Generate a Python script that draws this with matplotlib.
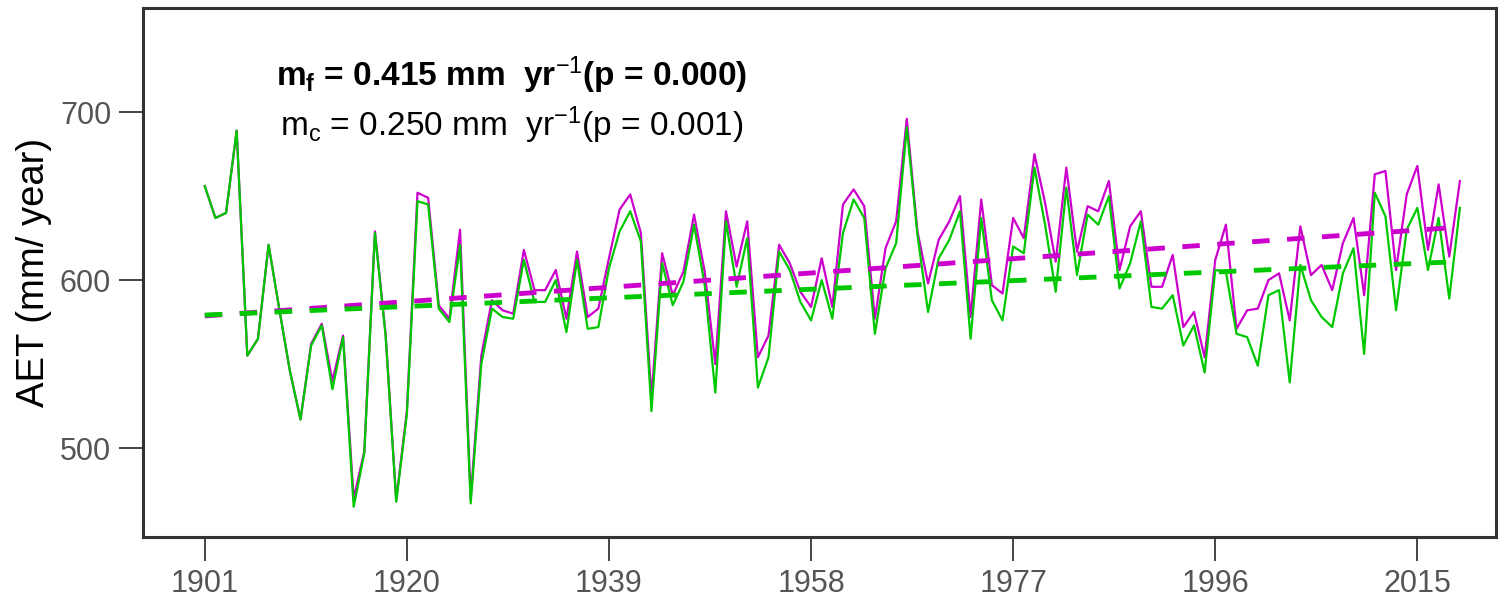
import numpy as np
import matplotlib
matplotlib.use("Agg")
import matplotlib.pyplot as plt

plt.rcParams['font.family'] = ['Liberation Sans', 'DejaVu Sans']
plt.rcParams['mathtext.fontset'] = 'custom'
plt.rcParams['mathtext.rm'] = 'Liberation Sans'
plt.rcParams['mathtext.it'] = 'Liberation Sans'
plt.rcParams['mathtext.bf'] = 'Liberation Sans:bold'

# data
years = np.arange(1901, 2020)

aet_f = [656, 637, 640, 689, 555, 565, 621, 583, 546, 517,
         562, 574, 540, 567, 470, 498, 629, 568, 469, 522,
         652, 649, 585, 577, 630, 470, 555, 588, 582, 580,
         618, 594, 594, 606, 577, 617, 578, 583, 613, 642,
         651, 628, 530, 616, 591, 605, 639, 605, 550, 641,
         608, 635, 554, 567, 621, 610, 593, 584, 613, 584,
         645, 654, 644, 577, 619, 635, 696, 629, 598, 624,
         635, 650, 578, 648, 597, 592, 637, 625, 675, 646,
         611, 667, 617, 644, 641, 659, 606, 632, 641, 596,
         596, 615, 572, 581, 554, 612, 633, 571, 582, 583,
         600, 604, 576, 632, 603, 609, 594, 622, 637, 591,
         663, 665, 606, 651, 668, 618, 657, 614, 659]

aet_c = [656, 637, 640, 689, 555, 565, 621, 583, 546, 517,
         561, 573, 535, 566, 465, 497, 628, 567, 468, 520,
         647, 645, 583, 575, 621, 467, 550, 583, 578, 577,
         612, 587, 587, 600, 569, 612, 571, 572, 607, 629,
         641, 623, 522, 610, 585, 599, 633, 597, 533, 635,
         596, 625, 536, 554, 617, 606, 587, 576, 600, 577,
         628, 648, 637, 568, 607, 622, 691, 627, 581, 613,
         624, 641, 565, 637, 588, 576, 620, 616, 667, 633,
         593, 655, 603, 639, 633, 650, 595, 610, 635, 584,
         583, 591, 561, 573, 545, 606, 605, 568, 566, 549,
         591, 594, 539, 609, 588, 578, 572, 604, 619, 556,
         652, 638, 582, 630, 643, 606, 637, 589, 643]

tick_years = [1901, 1920, 1939, 1958, 1977, 1996, 2015]

magenta = '#CC00CC'
green = '#00C800'

fig = plt.figure(figsize=(15.06, 5.97), dpi=100)
ax = fig.add_axes([0.095, 0.1005, 0.8984, 0.886])

# annual series
ax.plot(years, aet_f, color=magenta, lw=1.6, zorder=2)
ax.plot(years, aet_c, color=green, lw=1.6, zorder=3)

# linear trends
for vals, col, z in [(aet_f, magenta, 4), (aet_c, green, 5)]:
    k, b = np.polyfit(years, vals, 1)
    ax.plot(years, k * years + b, color=col, lw=3.5, ls=(0, (3.6, 3.6)), zorder=z)

ax.set_xlim(1895.2, 2022.4)
ax.set_ylim(447, 762)
ax.set_xticks(tick_years)
ax.set_yticks([500, 600, 700])

ax.set_ylabel('AET (mm/ year)', fontsize=27.5, color='black', labelpad=6)
ax.tick_params(axis='both', direction='out', length=17, width=1.4,
               color='#444444', labelcolor='#555555', labelsize=22, pad=6)

for s in ax.spines.values():
    s.set_linewidth(2.2)
    s.set_color('#333333')

ax.text(0.2727, 0.873, r'$\mathbf{m_f}$ = 0.415 mm  yr$^{-1}$(p = 0.000)',
        transform=ax.transAxes, ha='center', va='center', fontsize=24,
        fontweight='bold', color='black')
ax.text(0.2727, 0.779, r'm$_\mathrm{c}$ = 0.250 mm  yr$^{-1}$(p = 0.001)',
        transform=ax.transAxes, ha='center', va='center', fontsize=24,
        color='black')

fig.savefig('out.png', dpi=100)
